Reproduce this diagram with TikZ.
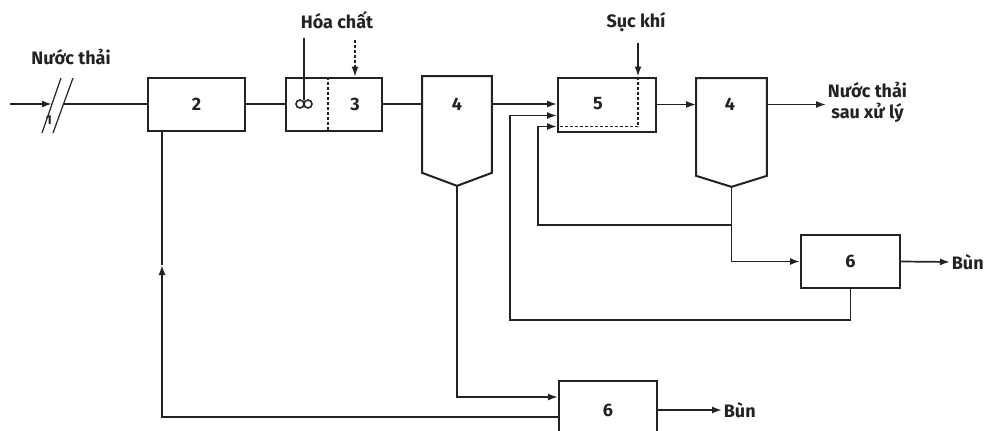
\documentclass[tikz,border=0pt]{standalone}
\usepackage{fontspec}
\setmainfont{Fira Sans}
\usetikzlibrary{arrows.meta,calc}
\definecolor{ink}{HTML}{222222}

\begin{document}
\begin{tikzpicture}[x=1pt,y=-1pt,font=\fontsize{18}{21}\selectfont\bfseries,color=ink,
  >={Latex[length=10pt,width=7pt]},line width=1.7pt,
  unit/.style={draw,line width=2pt,minimum height=53pt,inner sep=0pt},
  settler/.style={minimum width=68pt,minimum height=95pt,inner sep=0pt},
  lab/.style={inner sep=1pt},
  fine/.style={line width=1.2pt,dash pattern=on 3pt off 2pt}]
\useasboundingbox (0,0) rectangle (988,431);
\clip (0,0) rectangle (988,431);

% ===== units =====
\node[unit,minimum width=97pt] (b2) at (196.5,104) {2};
\node[unit,minimum width=96pt] (b3) at (334,104) {};
\node[lab] (n3) at (355,104) {3};
\draw[fine] (328,0 |- b3.north) -- (328,0 |- b3.south);
\node[settler] (c1) at (457,124.5) {};
\coordinate (t1) at ($(c1.south)+(0,13)$);
\draw[line width=2pt] (c1.south west) -- (c1.north west) -- (c1.north east) -- (c1.south east) -- (t1) -- cycle;
\node[lab] (n4a) at (457,104) {4};
\node[unit,minimum width=98pt,minimum height=54pt] (b5) at (607,104.5) {};
\node[lab] (n5) at (598,104) {5};
\node[settler,minimum width=69pt,minimum height=96pt] (c2) at (731.5,127) {};
\coordinate (t2) at ($(c2.south)+(0,11)$);
\draw[line width=2pt] (c2.south west) -- (c2.north west) -- (c2.north east) -- (c2.south east) -- (t2) -- cycle;
\node[lab] (n4b) at (730,104) {4};
\node[unit,minimum width=99pt] (b6a) at (850.5,261.5) {6};
\node[unit,minimum width=98pt,minimum height=58pt] (b6b) at (608,410) {6};

% ===== labels =====
\node[lab] (inlab) at (71,57) {Nước thải};
\node[lab,font=\fontsize{13}{15}\selectfont\bfseries] (n1) at (49,120) {1};
\node[lab] (chem) at (337,20) {Hóa chất};
\node[lab] (air) at (636,22) {Sục khí};
\node[lab,align=center,anchor=west] (outlab) at (826,102) {Nước thải\\sau xử lý};
\node[lab,anchor=west] (bun1) at (950,262) {Bùn};
\node[lab,anchor=west] (bun2) at (722,410) {Bùn};

% ===== mixer =====
\coordinate (mix) at (304,38);
\draw (mix) -- (304,100);
\draw[line width=1.6pt] (300,104) circle (4pt) (308,104) circle (4pt);

% ===== inlet =====
\coordinate (src) at (10,104);
\coordinate (cut1) at (52,104);
\coordinate (cut2) at (63,104);
\draw[->] (src) -- (cut1);
\draw (cut2) -- (b2.west);
\draw[line width=1.2pt] ($(cut1)+(-10,29)$) -- ($(cut1)+(9,-26)$);
\draw[line width=1.2pt] ($(cut2)+(-10,29)$) -- ($(cut2)+(10,-26)$);

% ===== main line =====
\draw (b2.east) -- (b3.west);
\draw[->,fine] ([yshift=-9pt]chem.south -| n3) -- (n3 |- b3.north);
\draw (b3.east) -- (b3.east -| c1.west);
\draw[->] (b3.east -| c1.east) -- (b3.east -| b5.west);
\draw[->] (b5.east) -- (b5.east -| c2.west);
\draw[->] (b5.east -| c2.east) -- (b5.east -| outlab.west);

% ===== aeration =====
\coordinate (f2) at ($(b5.west)+(0,11)$);
\coordinate (f3) at ($(b5.west)+(0,22)$);
\draw[->] ([yshift=-9pt]air.south -| 638,0) -- (638,0 |- b5.north);
\draw[fine] (638,0 |- b5.north) -- (638,0 |- f3) -- (f3);

% ===== returns =====
\coordinate (j2) at (731,225);
\draw[->] (t2) |- (b6a.west);
\draw[->] (j2) -| ($(f3)+(-19,0)$) -- (f3);
\draw[->] (b6a.south) -- ++(0,31) -| ($(f2)+(-47,0)$) -- (f2);
\draw[->] (b6a.east) -- (bun1.west);
\draw[->] (t1) |- ($(b6b.west)+(0,-13)$);
\coordinate (ret) at (162,265);
\draw[->] ($(b6b.west)+(0,7)$) -| (ret);
\draw (ret) -- (ret |- b2.south);
\draw[->] (b6b.east) -- (bun2.west);

\end{tikzpicture}
\end{document}
